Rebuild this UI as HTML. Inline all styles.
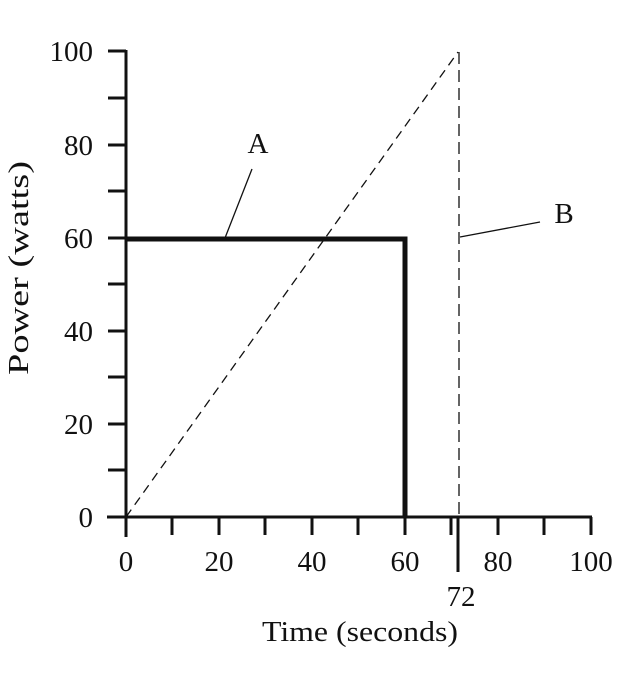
<!DOCTYPE html>
<html><head><meta charset="utf-8"><style>
html,body{margin:0;padding:0;background:#fff;}
</style></head><body>
<svg width="636" height="675" viewBox="0 0 636 675" xmlns="http://www.w3.org/2000/svg" font-family="Liberation Serif, serif" fill="#111">
<g stroke="#111" stroke-width="3" fill="none">
<line x1="126" y1="50" x2="126" y2="537"/>
<line x1="107" y1="517" x2="592" y2="517"/>
<line x1="108" y1="51" x2="126" y2="51"/>
<line x1="108" y1="98" x2="126" y2="98"/>
<line x1="108" y1="145" x2="126" y2="145"/>
<line x1="108" y1="191" x2="126" y2="191"/>
<line x1="108" y1="238" x2="126" y2="238"/>
<line x1="108" y1="284" x2="126" y2="284"/>
<line x1="108" y1="331" x2="126" y2="331"/>
<line x1="108" y1="377" x2="126" y2="377"/>
<line x1="108" y1="424" x2="126" y2="424"/>
<line x1="108" y1="470" x2="126" y2="470"/>
<line x1="172" y1="517" x2="172" y2="535"/>
<line x1="219" y1="517" x2="219" y2="535"/>
<line x1="265" y1="517" x2="265" y2="535"/>
<line x1="312" y1="517" x2="312" y2="535"/>
<line x1="358" y1="517" x2="358" y2="535"/>
<line x1="405" y1="517" x2="405" y2="535"/>
<line x1="451" y1="517" x2="451" y2="535"/>
<line x1="498" y1="517" x2="498" y2="535"/>
<line x1="544" y1="517" x2="544" y2="535"/>
<line x1="591" y1="517" x2="591" y2="535"/>
<line x1="458" y1="517" x2="458" y2="572"/>
</g>
<polyline points="126,239 405,239 405,517" stroke="#111" stroke-width="5" fill="none"/>
<line x1="126" y1="517" x2="458" y2="52" stroke="#111" stroke-width="1.3" stroke-dasharray="9,6" fill="none"/>
<line x1="459" y1="52" x2="459" y2="517" stroke="#111" stroke-width="1.3" stroke-dasharray="12,6" fill="none"/>
<line x1="225" y1="238" x2="252" y2="169" stroke="#111" stroke-width="1.3"/>
<line x1="460" y1="237" x2="540" y2="222" stroke="#111" stroke-width="1.3"/>
<g font-size="29">
<text x="258" y="153" text-anchor="middle">A</text>
<text x="564" y="223" text-anchor="middle">B</text>
<g text-anchor="end">
<text x="93" y="61">100</text>
<text x="93" y="155">80</text>
<text x="93" y="248">60</text>
<text x="93" y="341">40</text>
<text x="93" y="434">20</text>
<text x="93" y="527">0</text>
</g>
<g text-anchor="middle">
<text x="126" y="571">0</text>
<text x="219" y="571">20</text>
<text x="312" y="571">40</text>
<text x="405" y="571">60</text>
<text x="498" y="571">80</text>
<text x="591" y="571">100</text>
<text x="461" y="606">72</text>
<text x="360" y="641" textLength="196" lengthAdjust="spacingAndGlyphs">Time (seconds)</text>
</g>
<text transform="translate(28,268) rotate(-90)" text-anchor="middle" textLength="214" lengthAdjust="spacingAndGlyphs">Power (watts)</text>
</g>
</svg>
</body></html>
